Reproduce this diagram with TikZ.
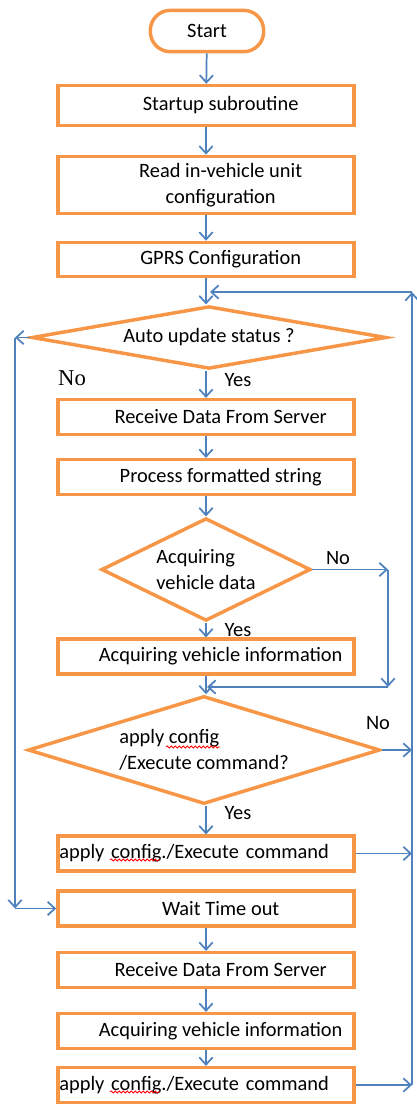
\documentclass[tikz,border=0pt]{standalone}
\usepackage{fontspec}
\setmainfont{Carlito}
\newfontfamily\timesfont{Liberation Serif}
\usetikzlibrary{shapes.geometric, arrows.meta, decorations.pathmorphing}

\definecolor{boxorange}{HTML}{F79646}
\definecolor{lineblue}{HTML}{4F81BD}

\begin{document}
\begin{tikzpicture}[x=0.75pt, y=-0.75pt,
    box/.style={draw=boxorange, line width=2.6pt, rectangle, minimum width=222pt,
        minimum height=26pt, inner sep=1pt, font=\fontsize{15.3}{20}\selectfont},
    shifted/.style={execute at begin node={\hspace*{22pt}}},
    applybox/.style={box, text width=220pt, align=left, inner xsep=1pt},
    decision/.style={draw=boxorange, line width=2.6pt, diamond, inner sep=0pt,
        font=\fontsize{15.3}{20}\selectfont},
    arr/.style={draw=lineblue, line width=1.3pt, -{Straight Barb[length=5.5pt,width=10pt]}},
    lbl/.style={font=\fontsize{15.3}{17}\selectfont, inner sep=0pt},
    squig/.style={draw=red, line width=0.6pt, decorate,
        decoration={snake, amplitude=0.8pt, segment length=3pt}}]

    \useasboundingbox (0,0) rectangle (417,1104);

    % Start and set-up
    \node[box, rounded corners=15pt, minimum width=85pt, minimum height=31pt] (start) at (207,31) {Start};
    \node[box, shifted, minimum height=30pt] (startup) at (206,105.5) {Startup subroutine};
    \node[box, align=center, minimum height=43pt] (read) at (206,185)
        {\hspace*{22pt}Read in-vehicle unit\\\hspace*{22pt}configuration};
    \node[box, shifted, minimum height=25.5pt] (gprs) at (206,259.5) {GPRS Configuration};

    % Auto update loop
    \node[decision, aspect=5.5, minimum width=266pt, minimum height=47pt] (autoupd) at (209,337.5) {Auto update status ?};
    \node[box, shifted] (recv) at (206,417) {Receive Data From Server};
    \node[box, shifted] (proc) at (206,477) {Process formatted string};
    \node[decision, aspect=2, minimum width=157pt, minimum height=77pt, align=left] (acqdata) at (206,569.5)
        {Acquiring\\vehicle data};
    \node[box, shifted] (acqinfo) at (206,656.5) {Acquiring vehicle information};
    \node[decision, aspect=3.2, minimum width=264pt, minimum height=81pt, align=left] (applyq) at (204,750)
        {apply config\\/Execute command?};
    \node[applybox] (apply) at (206,853.5) {apply config./Execute command};

    % Time out part
    \node[box, shifted] (wait) at (206,908.5) {Wait Time out};
    \node[box, shifted] (recv2) at (206,970) {Receive Data From Server};
    \node[box, shifted] (acq2) at (206,1031) {Acquiring vehicle information};
    \node[applybox] (apply2) at (206,1085) {apply config./Execute command};

    % spell check marks
    \draw[squig] (166,747) -- (220,747);
    \draw[squig] (110,860) -- (160,860);
    \draw[squig] (110,1092) -- (160,1092);

    % Labels
    \node[font=\timesfont\fontsize{17}{20}\selectfont, inner sep=0pt] (nomain) at (72,378) {No};
    \node[lbl] (yes1) at (238,380) {Yes};
    \node[lbl] (no2) at (338,558) {No};
    \node[lbl] (yes2) at (238,630) {Yes};
    \node[lbl] (no3) at (378,723) {No};
    \node[lbl] (yes3) at (238,813) {Yes};

    % Loop corners
    \coordinate (noleft) at (15,337.5);
    \coordinate (nobottom) at (15,908.5);
    \coordinate (acqno) at (388,569.5);
    \coordinate (acqjoin) at (388,687);
    \coordinate (mainjoin) at (207,687);
    \coordinate (rbot) at (412,1085);
    \coordinate (rtop) at (412,292);
    \coordinate (topjoin) at (210,292);

    % Main flow
    \draw[arr] (start) -- (startup);
    \draw[arr] (startup) -- (read);
    \draw[arr] (read) -- (gprs);
    \draw[arr] (gprs) -- (gprs |- autoupd.north);
    \draw[arr] (gprs |- autoupd.south) -- (recv);
    \draw[arr] (recv) -- (proc);
    \draw[arr] (proc) -- (acqdata);
    \draw[arr] (acqdata) -- (acqinfo);
    \draw[arr] (acqinfo) -- (acqinfo |- applyq.north);
    \draw[arr] (acqinfo |- applyq.south) -- (apply);
    \draw[arr] (wait) -- (recv2);
    \draw[arr] (recv2) -- (acq2);
    \draw[arr] (acq2) -- (apply2);

    % No branch of auto update
    \draw[arr] (autoupd.west) -- (noleft);
    \draw[arr] (noleft) -- (nobottom);
    \draw[arr] (nobottom) -- (wait.west);

    % No branch of vehicle data
    \draw[arr] (acqdata.east) -- (acqno);
    \draw[arr] (acqno) -- (acqjoin);
    \draw[arr] (acqjoin) -- (mainjoin);

    % Back to the top
    \draw[arr] (applyq.east) -- (applyq.east -| rbot);
    \draw[arr] (apply.east) -- (apply.east -| rbot);
    \draw[arr] (apply2.east) -- (rbot);
    \draw[arr] (rbot) -- (rtop);
    \draw[arr] (rtop) -- (topjoin);
\end{tikzpicture}
\end{document}
